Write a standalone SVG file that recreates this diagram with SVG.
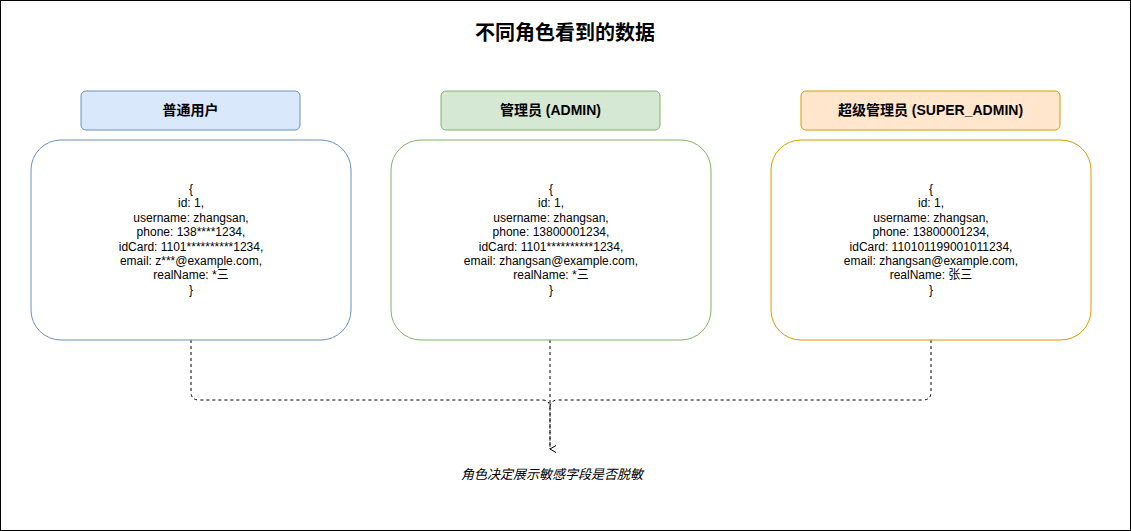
<svg xmlns="http://www.w3.org/2000/svg" width="1131" height="531" viewBox="0 0 1131 531">
<style>
text{font-family:"Liberation Sans","Noto Sans CJK SC",sans-serif;fill:#000;text-anchor:middle}
.t{font-size:20px;font-weight:bold}
.h{font-size:14px;font-weight:bold}
.b{font-size:12px}
.c{fill:none;stroke:#000;stroke-dasharray:3 3;stroke-width:1}
</style>
<defs><marker id="a" markerWidth="10" markerHeight="10" refX="5" refY="8" orient="auto" markerUnits="userSpaceOnUse" viewBox="0 0 10 10"><path d="M1.5 2L5 8L8.5 2" fill="none" stroke="#000"/></marker></defs>
<rect x="0.5" y="0.5" width="1130" height="530" fill="#fff" stroke="#000"/>
<text class="t" x="565" y="40">不同角色看到的数据</text>
<g id="connectors">
<path class="c" d="M191 340V392Q191 400 199 400H542Q550 400 550 408V449" marker-end="url(#a)"/>
<path class="c" d="M550 340V449"/>
<path class="c" d="M931 340V392Q931 400 923 400H558Q550 400 550 408"/>
</g>
<g id="h1"><rect x="81" y="91" width="219" height="39" rx="5" fill="#dae8fc" stroke="#6c8ebf"/><text class="h" x="190.5" y="115">普通用户</text></g>
<g id="h2"><rect x="441" y="91" width="219" height="39" rx="5" fill="#d5e8d4" stroke="#82b366"/><text class="h" x="550.5" y="115">管理员 (ADMIN)</text></g>
<g id="h3"><rect x="801" y="91" width="259" height="39" rx="5" fill="#ffe6cc" stroke="#d79b00"/><text class="h" x="930.5" y="115">超级管理员 (SUPER_ADMIN)</text></g>
<g id="n1"><rect x="31" y="140" width="320" height="200" rx="30" fill="#fff" stroke="#6c8ebf"/>
<text class="b" x="191" y="193">{<tspan x="191" dy="14.4">id: 1,</tspan><tspan x="191" dy="14.4">username: zhangsan,</tspan><tspan x="191" dy="14.4">phone: 138****1234,</tspan><tspan x="191" dy="14.4">idCard: 1101**********1234,</tspan><tspan x="191" dy="14.4">email: z***@example.com,</tspan><tspan x="191" dy="14.4">realName: *三</tspan><tspan x="191" dy="14.4">}</tspan></text></g>
<g id="n2"><rect x="391" y="140" width="320" height="200" rx="30" fill="#fff" stroke="#82b366"/>
<text class="b" x="551" y="193">{<tspan x="551" dy="14.4">id: 1,</tspan><tspan x="551" dy="14.4">username: zhangsan,</tspan><tspan x="551" dy="14.4">phone: 13800001234,</tspan><tspan x="551" dy="14.4">idCard: 1101**********1234,</tspan><tspan x="551" dy="14.4">email: zhangsan@example.com,</tspan><tspan x="551" dy="14.4">realName: *三</tspan><tspan x="551" dy="14.4">}</tspan></text></g>
<g id="n3"><rect x="771" y="140" width="320" height="200" rx="30" fill="#fff" stroke="#d79b00"/>
<text class="b" x="931" y="193">{<tspan x="931" dy="14.4">id: 1,</tspan><tspan x="931" dy="14.4">username: zhangsan,</tspan><tspan x="931" dy="14.4">phone: 13800001234,</tspan><tspan x="931" dy="14.4">idCard: 110101199001011234,</tspan><tspan x="931" dy="14.4">email: zhangsan@example.com,</tspan><tspan x="931" dy="14.4">realName: 张三</tspan><tspan x="931" dy="14.4">}</tspan></text></g>
<g id="note"><text class="b" x="552" y="479" style="font-size:13px;font-style:italic">角色决定展示敏感字段是否脱敏</text></g>
</svg>
